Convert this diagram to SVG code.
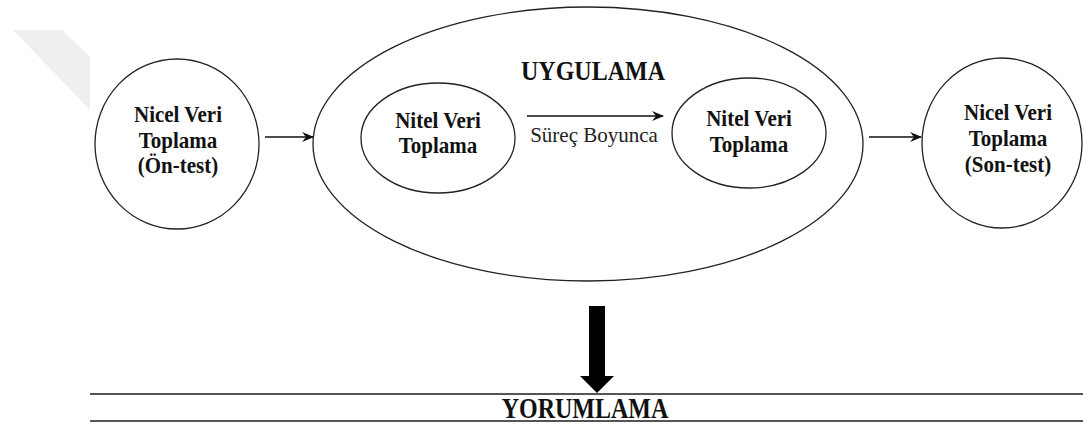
<svg xmlns="http://www.w3.org/2000/svg" width="1083" height="425" viewBox="0 0 1083 425">
  <style>
    .shape { fill: none; stroke: #222; stroke-width: 1.3; }
    .conn { fill: none; stroke: #111; stroke-width: 1.5; }
    .b { font-family: "Liberation Serif", "Times New Roman", serif; font-weight: bold; font-size: 21px; fill: #111; text-anchor: middle; }
    .big { font-size: 24px; }
    .r { font-family: "Liberation Serif", "Times New Roman", serif; font-size: 21px; fill: #222; text-anchor: middle; }
    .rule { stroke: #555; stroke-width: 2; }
  </style>
  <defs>
    <marker id="ah" viewBox="0 0 12 10" refX="11" refY="5" markerWidth="12" markerHeight="10" markerUnits="userSpaceOnUse" orient="auto">
      <path d="M0,0 L12,5 L0,10 L4,5 Z" fill="#111"/>
    </marker>
  </defs>
  <rect width="1083" height="425" fill="#fff"/>
  <polygon points="13,30 62,30 90,57 90,110" fill="#efefef"/>

  <g id="pretest">
    <ellipse class="shape" cx="177" cy="144" rx="82" ry="85"/>
    <text class="b" transform="translate(178,122) scale(1,1.12)">Nicel Veri</text>
    <text class="b" transform="translate(178,148) scale(1,1.12)">Toplama</text>
    <text class="b" transform="translate(178,173) scale(1,1.12)">(Ön-test)</text>
  </g>

  <g id="uygulama">
    <ellipse class="shape" cx="588" cy="144" rx="275" ry="137"/>
    <text class="b big" transform="translate(593,80) scale(1,1.12)">UYGULAMA</text>
  </g>

  <g id="nitel1">
    <ellipse class="shape" cx="438" cy="138" rx="77" ry="55"/>
    <text class="b" transform="translate(438,128) scale(1,1.12)">Nitel Veri</text>
    <text class="b" transform="translate(438,153) scale(1,1.12)">Toplama</text>
  </g>

  <g id="nitel2">
    <ellipse class="shape" cx="749" cy="133" rx="77" ry="55"/>
    <text class="b" transform="translate(749,126) scale(1,1.12)">Nitel Veri</text>
    <text class="b" transform="translate(749,152) scale(1,1.12)">Toplama</text>
  </g>

  <g id="posttest">
    <ellipse class="shape" cx="1002" cy="143" rx="80" ry="85"/>
    <text class="b" transform="translate(1008,120) scale(1,1.12)">Nicel Veri</text>
    <text class="b" transform="translate(1008,146) scale(1,1.12)">Toplama</text>
    <text class="b" transform="translate(1008,172) scale(1,1.12)">(Son-test)</text>
  </g>

  <g id="yorumlama">
    <line class="rule" x1="90" y1="394" x2="1083" y2="394"/>
    <line class="rule" x1="90" y1="421" x2="1083" y2="421"/>
    <text class="b big" transform="translate(585,418) scale(1,1.25)">YORUMLAMA</text>
  </g>

  <g id="connectors">
    <line class="conn" x1="265" y1="137" x2="313" y2="137" marker-end="url(#ah)"/>
    <line class="conn" x1="527" y1="116" x2="663" y2="116" marker-end="url(#ah)"/>
    <text class="r" x="594" y="142">Süreç Boyunca</text>
    <line class="conn" x1="869" y1="137" x2="921" y2="137" marker-end="url(#ah)"/>
    <polygon points="589,306 605,306 605,376 614,376 597,393 580,376 589,376" fill="#000"/>
  </g>
</svg>
